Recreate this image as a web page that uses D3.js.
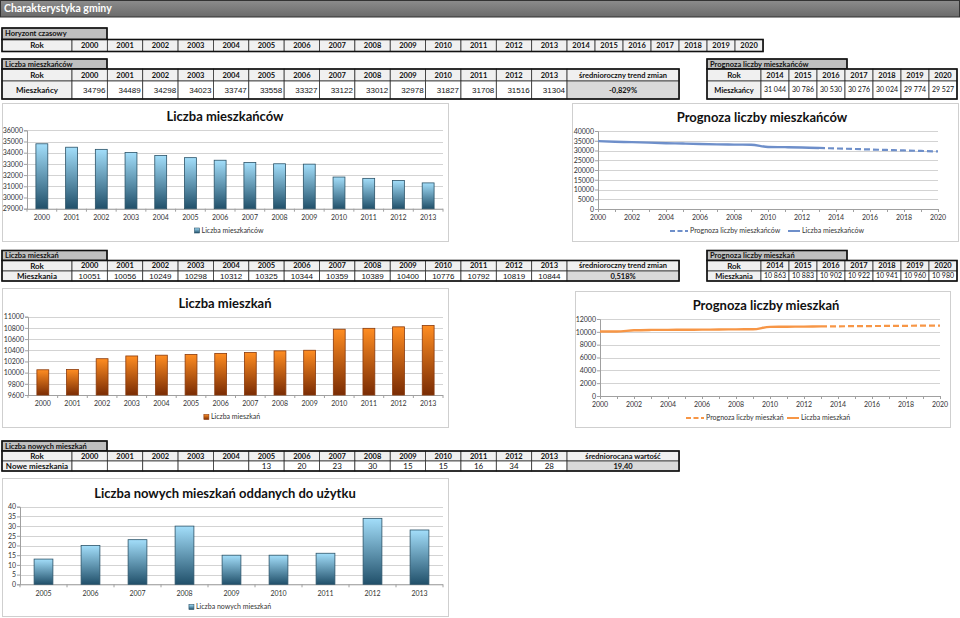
<!DOCTYPE html>
<html><head><meta charset="utf-8">
<script src="https://cdn.jsdelivr.net/npm/d3@7"></script>
<style>
body{margin:0;background:#fff;}
svg{display:block;}
</style></head>
<body>
<svg id="c" width="960" height="618"></svg>
<script>
// ---------------- DATA ----------------
const years = [2000,2001,2002,2003,2004,2005,2006,2007,2008,2009,2010,2011,2012,2013];
const horizonYears = [2000,2001,2002,2003,2004,2005,2006,2007,2008,2009,2010,2011,2012,2013,2014,2015,2016,2017,2018,2019,2020];
const residents = [34796,34489,34298,34023,33747,33558,33327,33122,33012,32978,31827,31708,31516,31304];
const forecastYears = [2014,2015,2016,2017,2018,2019,2020];
const residentsForecast = [31044,30786,30530,30276,30024,29774,29527];
const residentsTrend = "-0,829%";
const dwellings = [10051,10056,10249,10298,10312,10325,10344,10359,10389,10400,10776,10792,10819,10844];
const dwellingsForecast = [10863,10883,10902,10922,10941,10960,10980];
const dwellingsTrend = "0,518%";
const newYears = [2005,2006,2007,2008,2009,2010,2011,2012,2013];
const newDwellings = [13,20,23,30,15,15,16,34,28];
const newDwellingsAvg = "19,40";
const resTicks = [29000,30000,31000,32000,33000,34000,35000,36000];
const resLineTicks = [0,5000,10000,15000,20000,25000,30000,35000,40000];
const dwTicks = [9600,9800,10000,10200,10400,10600,10800,11000];
const dwLineTicks = [0,2000,4000,6000,8000,10000,12000];
const newTicks = [0,5,10,15,20,25,30,35,40];
const lineXTicks = [2000,2002,2004,2006,2008,2010,2012,2014,2016,2018,2020];

// ---------------- SETUP ----------------
const svg = d3.select("#c");
const FONT = "Lato, 'Open Sans', sans-serif";
const ARIAL = "'Liberation Sans', Arial, sans-serif";
const defs = svg.append("defs");
function vgrad(id, top, bottom){
  const g = defs.append("linearGradient").attr("id",id).attr("x1",0).attr("y1",0).attr("x2",0).attr("y2",1);
  g.append("stop").attr("offset","0%").attr("stop-color",top);
  g.append("stop").attr("offset","100%").attr("stop-color",bottom);
}
vgrad("gBlue","#a3defa","#21506a");
vgrad("gOrange","#ff8d22","#7a2c04");
const hg = defs.append("linearGradient").attr("id","gTitle").attr("x1",0).attr("y1",0).attr("x2",0).attr("y2",1);
hg.append("stop").attr("offset","0%").attr("stop-color","#8c8c8c");
hg.append("stop").attr("offset","100%").attr("stop-color","#6a6a6a");

// Title bar
svg.append("rect").attr("x",0.5).attr("y",0.5).attr("width",959).attr("height",16.5)
  .attr("fill","url(#gTitle)").attr("stroke","#333").attr("stroke-width",1);
svg.append("text").attr("x",4).attr("y",12).attr("fill","#fff").attr("font-family",FONT)
  .attr("font-weight","bold").attr("font-size",10.5).text("Charakterystyka gminy");

// ---------------- TABLE HELPERS ----------------
function cell(x,y,w,h,txt,o={}){
  svg.append("rect").attr("x",x).attr("y",y).attr("width",w).attr("height",h)
    .attr("fill",o.fill||"#fff").attr("stroke","#333").attr("stroke-width",0.8);
  if(txt!==undefined && txt!==null && txt!==""){
    const anchor = o.align==="right"?"end":(o.align==="left"?"start":"middle");
    const tx = o.align==="right"? x+w-2 : (o.align==="left"? x+3 : x+w/2);
    svg.append("text").attr("x",tx).attr("y",y+h/2).attr("dy","0.35em")
      .attr("text-anchor",anchor).attr("font-family",o.font||FONT)
      .attr("font-weight",o.bold?"bold":"normal").attr("font-size",o.size||8)
      .attr("fill","#111").text(txt);
  }
}
function outline(x,y,w,h){
  svg.append("rect").attr("x",x).attr("y",y).attr("width",w).attr("height",h)
    .attr("fill","none").attr("stroke","#111").attr("stroke-width",1.6);
}
function labelBox(x,y,w,h,txt){
  cell(x,y,w,h,txt,{fill:"#bfbfbf",bold:true,align:"left",size:7.5});
  outline(x,y,w,h);
}
const HDR = "#f0f0f0";
const rokX = 2, rokW = 70, yX0 = 72, yW = 35.36;
const trendX = yX0 + yW*14, trendW = 112;
const fYW = 28;

// Horyzont czasowy
labelBox(2,28,105,11.5,"Horyzont czasowy");
cell(rokX,39.5,rokW,12,"Rok",{fill:HDR,bold:true});
horizonYears.forEach((yr,i)=>{
  const x = i<14 ? yX0+i*yW : trendX+(i-14)*fYW;
  const w = i<14 ? yW : fYW;
  cell(x,39.5,w,12,yr,{fill:HDR,bold:true,size:7.5});
});
outline(2,39.5,trendX+7*fYW-2,12);

// Liczba mieszkańców table
labelBox(2,59,105,10,"Liczba mieszkańców");
cell(rokX,69,rokW,12,"Rok",{fill:HDR,bold:true});
years.forEach((yr,i)=>cell(yX0+i*yW,69,yW,12,yr,{fill:HDR,bold:true,size:7.5}));
cell(trendX,69,trendW,12,"średnioroczny trend zmian",{fill:HDR,bold:true,size:7.5});
cell(rokX,81,rokW,18,"Mieszkańcy",{fill:HDR,bold:true});
residents.forEach((v,i)=>cell(yX0+i*yW,81,yW,18,v,{align:"right",font:ARIAL,size:8}));
cell(trendX,81,trendW,18,residentsTrend,{fill:"#d9d9d9",bold:true,size:7.5});
outline(2,69,trendX+trendW-2,30);

// Prognoza liczby mieszkańców table
const pX = 707, pRokW = 54;
labelBox(pX,59,140,10,"Prognoza liczby mieszkańców");
cell(pX,69,pRokW,12,"Rok",{fill:HDR,bold:true});
forecastYears.forEach((yr,i)=>cell(pX+pRokW+i*fYW,69,fYW,12,yr,{fill:HDR,bold:true,size:7.5}));
cell(pX,81,pRokW,18,"Mieszkańcy",{fill:HDR,bold:true,size:7.5});
const fmt = v => d3.format(",")(v).replace(/,/g,"\u202F");
residentsForecast.forEach((v,i)=>cell(pX+pRokW+i*fYW,81,fYW,18,fmt(v),{size:7}));
outline(pX,69,pRokW+7*fYW,30);

// Liczba mieszkań table
labelBox(2,250.5,105,10,"Liczba mieszkań");
cell(rokX,260.5,rokW,10.5,"Rok",{fill:HDR,bold:true});
years.forEach((yr,i)=>cell(yX0+i*yW,260.5,yW,10.5,yr,{fill:HDR,bold:true,size:7.5}));
cell(trendX,260.5,trendW,10.5,"średnioroczny trend zmian",{fill:HDR,bold:true,size:7.5});
cell(rokX,271,rokW,10,"Mieszkania",{fill:HDR,bold:true});
dwellings.forEach((v,i)=>cell(yX0+i*yW,271,yW,10,v,{font:ARIAL,size:8}));
cell(trendX,271,trendW,10,dwellingsTrend,{fill:"#d9d9d9",bold:true,size:7.5});
outline(2,260.5,trendX+trendW-2,20.5);

labelBox(pX,250.5,140,10,"Prognoza liczby mieszkań");
cell(pX,260.5,pRokW,10.5,"Rok",{fill:HDR,bold:true});
forecastYears.forEach((yr,i)=>cell(pX+pRokW+i*fYW,260.5,fYW,10.5,yr,{fill:HDR,bold:true,size:7.5}));
cell(pX,271,pRokW,10,"Mieszkania",{fill:HDR,bold:true,size:7.5});
dwellingsForecast.forEach((v,i)=>cell(pX+pRokW+i*fYW,271,fYW,10,fmt(v),{size:7}));
outline(pX,260.5,pRokW+7*fYW,20.5);

// Liczba nowych mieszkań table
labelBox(2,441,105,10,"Liczba nowych mieszkań");
cell(rokX,451,rokW,10,"Rok",{fill:HDR,bold:true});
years.forEach((yr,i)=>cell(yX0+i*yW,451,yW,10,yr,{fill:HDR,bold:true,size:7.5}));
cell(trendX,451,trendW,10,"średniorocana wartość",{fill:HDR,bold:true,size:7.5});
cell(rokX,461,rokW,10,"Nowe mieszkania",{fill:HDR,bold:true});
years.forEach((yr,i)=>{
  const k = newYears.indexOf(yr);
  cell(yX0+i*yW,461,yW,10,k>=0?newDwellings[k]:"",{size:8});
});
cell(trendX,461,trendW,10,newDwellingsAvg,{fill:"#d9d9d9",bold:true,size:7.5});
outline(2,451,trendX+trendW-2,20);

// ---------------- CHART HELPERS ----------------
function frame(x,y,w,h){
  svg.append("rect").attr("x",x+0.5).attr("y",y+0.5).attr("width",w).attr("height",h)
    .attr("fill","#fff").attr("stroke","#cfcfcf").attr("stroke-width",1);
}
function title(x,y,t){
  svg.append("text").attr("x",x).attr("y",y).attr("dy","0.35em").attr("text-anchor","middle")
    .attr("font-family",FONT).attr("font-weight","bold").attr("font-size",13).attr("fill","#111").text(t);
}
function yAxis(y, ticks, x0, x1){
  const g = svg.append("g");
  g.selectAll("line.grid").data(ticks).join("line")
    .attr("x1",x0).attr("x2",x1).attr("y1",d=>Math.round(y(d))+0.5).attr("y2",d=>Math.round(y(d))+0.5)
    .attr("stroke","#c8c8c8").attr("stroke-width",0.8);
  const ax = svg.append("g").attr("transform",`translate(${x0},0)`)
    .call(d3.axisLeft(y).tickValues(ticks).tickSize(3).tickFormat(d3.format("d")));
  ax.select(".domain").attr("stroke","#a0a0a0");
  ax.selectAll(".tick line").attr("stroke","#a0a0a0");
  ax.selectAll("text").attr("font-family",FONT).attr("font-size",7).attr("fill","#333").attr("x",-4);
}
function barChart(o){
  frame(o.frame[0],o.frame[1],o.frame[2]-o.frame[0],o.frame[3]-o.frame[1]);
  title(o.titleX,o.titleY,o.title);
  const x = d3.scaleBand().domain(o.cats).range([o.x0,o.x1]).paddingInner(o.pad).paddingOuter(o.pad/2);
  const y = d3.scaleLinear().domain([o.ticks[0],o.ticks[o.ticks.length-1]]).range([o.yb,o.yt]);
  yAxis(y,o.ticks,o.x0,o.x1);
  svg.append("line").attr("x1",o.x0).attr("x2",o.x1).attr("y1",o.yb+0.5).attr("y2",o.yb+0.5).attr("stroke","#a0a0a0");
  const step = x.step();
  svg.append("g").selectAll("line").data(d3.range(o.cats.length+1)).join("line")
    .attr("x1",i=>o.x0+i*step).attr("x2",i=>o.x0+i*step).attr("y1",o.yb).attr("y2",o.yb+3).attr("stroke","#a0a0a0");
  svg.append("g").selectAll("rect").data(o.vals).join("rect")
    .attr("x",(d,i)=>x(o.cats[i])).attr("width",x.bandwidth())
    .attr("y",d=>y(d)).attr("height",d=>o.yb-y(d))
    .attr("fill",`url(#${o.grad})`).attr("stroke",o.stroke).attr("stroke-width",0.8);
  svg.append("g").selectAll("text").data(o.cats).join("text")
    .attr("x",d=>x(d)+x.bandwidth()/2).attr("y",o.labY).attr("dy","0.35em").attr("text-anchor","middle")
    .attr("font-family",FONT).attr("font-size",7).attr("fill","#333").text(d=>d);
  const lg = svg.append("g");
  const lt = lg.append("text").attr("x",o.legX+7).attr("y",o.legY).attr("dy","0.35em")
    .attr("font-family",FONT).attr("font-size",7).attr("fill","#333").text(o.legend);
  const w = lt.node().getComputedTextLength()+7;
  lg.attr("transform",`translate(${-w/2},0)`);
  lg.append("rect").attr("x",o.legX).attr("y",o.legY-2.5).attr("width",5).attr("height",5)
    .attr("fill",`url(#${o.grad})`).attr("stroke",o.stroke).attr("stroke-width",0.6);
}
function lineChart(o){
  frame(o.frame[0],o.frame[1],o.frame[2]-o.frame[0],o.frame[3]-o.frame[1]);
  title(o.titleX,o.titleY,o.title);
  const x = d3.scaleLinear().domain([2000,2020]).range([o.x0,o.x1]);
  const y = d3.scaleLinear().domain([o.ticks[0],o.ticks[o.ticks.length-1]]).range([o.yb,o.yt]);
  yAxis(y,o.ticks,o.x0,o.x1);
  const xa = svg.append("g").attr("transform",`translate(0,${o.yb})`)
    .call(d3.axisBottom(x).tickValues(d3.range(2000,2021)).tickSize(3).tickFormat(""));
  xa.select(".domain").attr("stroke","#a0a0a0");
  xa.selectAll(".tick line").attr("stroke","#a0a0a0");
  svg.append("g").selectAll("text").data(lineXTicks).join("text")
    .attr("x",d=>x(d)).attr("y",o.labY).attr("dy","0.35em").attr("text-anchor","middle")
    .attr("font-family",FONT).attr("font-size",7).attr("fill","#333").text(d=>d);
  const line = d3.line().x(d=>x(d[0])).y(d=>y(d[1])).curve(d3.curveMonotoneX);
  const actual = years.map((yr,i)=>[yr,o.actual[i]]);
  const fc = [[years[years.length-1],o.actual[o.actual.length-1]]].concat(forecastYears.map((yr,i)=>[yr,o.forecast[i]]));
  svg.append("path").attr("d",line(fc)).attr("fill","none").attr("stroke",o.color)
    .attr("stroke-width",2.2).attr("stroke-dasharray","6,3");
  svg.append("path").attr("d",line(actual)).attr("fill","none").attr("stroke",o.color).attr("stroke-width",2.4);
  const lg = svg.append("g");
  lg.append("line").attr("x1",o.leg1X).attr("x2",o.leg1X+18).attr("y1",o.legY).attr("y2",o.legY)
    .attr("stroke",o.color).attr("stroke-width",2).attr("stroke-dasharray","5,2.5");
  lg.append("text").attr("x",o.leg1X+20).attr("y",o.legY).attr("dy","0.35em").attr("font-family",FONT)
    .attr("font-size",7).attr("fill","#333").text(o.leg1);
  lg.append("line").attr("x1",o.leg2X).attr("x2",o.leg2X+12).attr("y1",o.legY).attr("y2",o.legY)
    .attr("stroke",o.color).attr("stroke-width",2);
  lg.append("text").attr("x",o.leg2X+14).attr("y",o.legY).attr("dy","0.35em").attr("font-family",FONT)
    .attr("font-size",7).attr("fill","#333").text(o.leg2);
}

// ---------------- CHARTS ----------------
barChart({frame:[2,103,448,241],title:"Liczba mieszkańców",titleX:225,titleY:116,
  cats:years,vals:residents,ticks:resTicks,x0:27,x1:443,yb:208.7,yt:130.3,pad:0.6,
  grad:"gBlue",stroke:"#2b5368",labY:218,legX:229,legY:230.5,legend:"Liczba mieszkańców"});

lineChart({frame:[572,103,958,241],title:"Prognoza liczby mieszkańców",titleX:762,titleY:117,
  ticks:resLineTicks,x0:598,x1:938,yb:209,yt:131,labY:217.5,color:"#6e8fca",
  actual:residents,forecast:residentsForecast,legY:231,
  leg1X:670,leg1:"Prognoza liczby mieszkańców",leg2X:788,leg2:"Liczba mieszkańców"});

barChart({frame:[2,288,448,427],title:"Liczba mieszkań",titleX:225,titleY:303,
  cats:years,vals:dwellings,ticks:dwTicks,x0:28,x1:443,yb:395,yt:316.7,pad:0.6,
  grad:"gOrange",stroke:"#8a3a0c",labY:403.5,legX:232,legY:417,legend:"Liczba mieszkań"});

lineChart({frame:[575,291,950,427],title:"Prognoza liczby mieszkań",titleX:766,titleY:305,
  ticks:dwLineTicks,x0:600,x1:940,yb:396,yt:319,labY:404.5,color:"#f79646",
  actual:dwellings,forecast:dwellingsForecast,legY:418,
  leg1X:686,leg1:"Prognoza liczby mieszkań",leg2X:787,leg2:"Liczba mieszkań"});

barChart({frame:[2,478,448,616],title:"Liczba nowych mieszkań oddanych do użytku",titleX:225,titleY:493,
  cats:newYears,vals:newDwellings,ticks:newTicks,x0:20,x1:443,yb:584.3,yt:506.7,pad:0.6,
  grad:"gBlue",stroke:"#2b5368",labY:593.5,legX:230,legY:607,legend:"Liczba nowych mieszkań"});
</script>
</body></html>
